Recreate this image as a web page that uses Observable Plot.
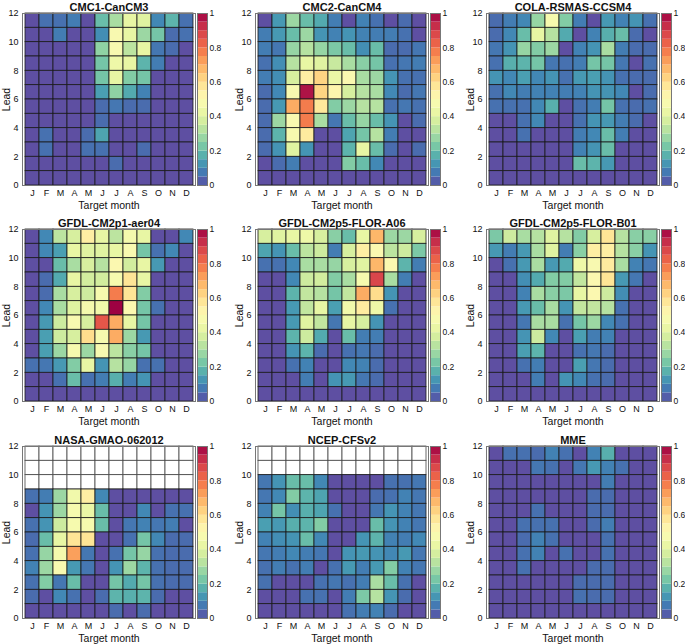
<!DOCTYPE html>
<html><head><meta charset="utf-8">
<script src="https://cdn.jsdelivr.net/npm/d3@7"></script>
<script src="https://cdn.jsdelivr.net/npm/@observablehq/plot@0.6"></script>
<style>
body{margin:0;background:#fff;}
#chart{position:relative;width:685px;height:644px;overflow:hidden;font-family:"Liberation Sans",Arial,sans-serif;}
#chart > div{position:absolute;}
#chart svg{max-width:none !important;}
</style></head><body><div id="chart"></div>
<script>
// ---- data ----
const months = ["J","F","M","A","M","J","J","A","S","O","N","D"];
const monthIndex = [0,1,2,3,4,5,6,7,8,9,10,11];
const leadTicks = [0,2,4,6,8,10,12];
const colorbarTicks = [0,0.2,0.4,0.6,0.8,1];
const colorbarSteps = [0,0.05,0.1,0.15,0.2,0.25,0.3,0.35,0.4,0.45,0.5,0.55,0.6,0.65,0.7,0.75,0.8,0.85,0.9,0.95];
const panelTitles = ["CMC1-CanCM3","CMC2-CanCM4","COLA-RSMAS-CCSM4","GFDL-CM2p1-aer04","GFDL-CM2p5-FLOR-A06","GFDL-CM2p5-FLOR-B01","NASA-GMAO-062012","NCEP-CFSv2","MME"];

// rows: lead 11 (top) ... lead 0 (bottom); columns J..D
const cmc1 = [
[0,0.06,0.06,0.08,0,0.2,0.3,0.42,0.4,0.1,0.18,0.06],
[0,0,0.08,0,0,0.11,0.48,0.42,0.28,0.22,0.05,0.06],
[0,0,0,0,0,0.26,0.48,0.33,0.42,0.07,0.05,0],
[0,0,0,0,0,0.22,0.44,0.42,0.18,0.08,0,0],
[0,0,0,0,0,0.22,0.42,0.24,0.22,0,0,0],
[0,0,0,0,0,0.14,0.26,0.16,0.09,0,0,0],
[0,0,0,0,0,0.05,0.07,0.05,0.05,0,0,0],
[0,0,0,0,0,0.05,0,0,0,0,0,0],
[0,0.06,0,0,0.05,0.15,0,0,0,0,0,0],
[0,0.06,0,0,0.06,0.06,0,0,0.05,0,0,0],
[0,0,0,0,0,0,0.05,0,0,0,0,0],
[0,0,0,0,0,0,0,0,0,0,0,0]];
const cmc2 = [
[0,0.13,0.28,0.2,0.16,0.08,0,0.09,0.06,0,0.05,0],
[0.08,0.13,0.2,0.28,0.12,0.09,0.12,0.09,0.08,0.08,0.06,0],
[0.08,0.07,0.27,0.32,0.27,0.23,0.2,0.11,0.2,0.05,0.05,0.07],
[0.06,0.11,0.32,0.42,0.4,0.35,0.3,0.25,0.22,0.06,0.07,0.08],
[0.08,0.11,0.38,0.55,0.62,0.43,0.5,0.3,0.28,0.12,0.06,0.06],
[0.05,0.1,0.48,0.97,0.62,0.52,0.38,0.32,0.3,0.1,0.05,0.07],
[0.05,0.13,0.7,0.78,0.57,0.24,0.28,0.32,0.32,0.06,0.07,0.06],
[0.05,0.28,0.48,0.78,0.3,0.07,0.2,0.27,0.2,0.12,0,0.05],
[0.05,0.18,0.47,0.56,0,0,0.15,0.22,0.32,0.08,0,0],
[0.05,0.12,0.4,0.12,0,0,0.18,0.42,0.2,0.05,0,0.05],
[0,0.05,0.08,0,0,0,0.24,0.2,0.1,0,0,0],
[0,0,0,0,0,0,0,0,0,0,0,0]];
const cola = [
[0.05,0.08,0.1,0.27,0.47,0.24,0.08,0,0.13,0.09,0.12,0.06],
[0.05,0.1,0.2,0.42,0.32,0.16,0,0.09,0.17,0.2,0.05,0],
[0.07,0.12,0.27,0.24,0.28,0,0.09,0.12,0.3,0.08,0.05,0.05],
[0.06,0.17,0.18,0.22,0.07,0.06,0.08,0.22,0.22,0.07,0,0.06],
[0.12,0.1,0.14,0.1,0.12,0.06,0.13,0.14,0.12,0.06,0.05,0.05],
[0.06,0.1,0.08,0.09,0.09,0.08,0.09,0.12,0.12,0.1,0,0.05],
[0.06,0.06,0.06,0.1,0.17,0,0.06,0.08,0.22,0.06,0.05,0.06],
[0,0,0.06,0.1,0,0,0.06,0.12,0.13,0.08,0.05,0],
[0,0,0.06,0,0,0,0.08,0.1,0.2,0.08,0,0],
[0,0,0,0,0,0,0.09,0.12,0.2,0,0,0],
[0,0,0,0,0,0,0.2,0.18,0.13,0,0,0],
[0,0,0,0,0,0,0,0,0,0,0,0]];
const gfdlAer04 = [
[0,0.1,0.33,0.38,0.55,0.42,0.33,0.46,0.42,0,0,0.1],
[0,0.1,0.14,0.42,0.4,0.4,0.42,0.48,0.22,0.06,0.1,0],
[0,0,0.2,0.3,0.38,0.32,0.5,0.37,0.42,0.13,0,0],
[0,0.05,0.16,0.42,0.37,0.37,0.47,0.58,0.42,0,0,0],
[0,0.05,0.3,0.38,0.36,0.47,0.78,0.58,0.24,0,0,0],
[0,0.1,0.3,0.4,0.46,0.45,1.0,0.5,0.22,0.06,0,0],
[0,0.13,0.36,0.48,0.38,0.85,0.7,0.42,0.22,0,0,0],
[0,0.14,0.36,0.38,0.6,0.47,0.7,0.28,0.13,0,0,0],
[0,0.14,0.28,0.47,0.28,0.48,0.33,0.25,0.22,0,0,0],
[0.06,0.07,0.13,0.24,0.42,0.12,0.32,0.27,0.06,0.06,0,0],
[0,0,0.06,0.2,0.06,0.08,0.17,0.08,0.12,0,0,0],
[0,0,0,0,0,0,0,0,0,0,0,0]];
const florA06 = [
[0.38,0.4,0.42,0.44,0.38,0.25,0.2,0.42,0.68,0.28,0.28,0.38],
[0.15,0.12,0.2,0.33,0.36,0.08,0.38,0.55,0.5,0.33,0.36,0.23],
[0.06,0.06,0.1,0.3,0.3,0.27,0.38,0.4,0.68,0.5,0.18,0.08],
[0,0,0.1,0.36,0.37,0.24,0.3,0.47,0.88,0.3,0.08,0],
[0,0,0.18,0.34,0.32,0.22,0.34,0.7,0.6,0.12,0,0],
[0,0,0.13,0.34,0.42,0.14,0.45,0.56,0.44,0.06,0,0],
[0,0,0.13,0.4,0.34,0.07,0.42,0.38,0.12,0,0,0],
[0,0,0.18,0.36,0.16,0,0.2,0.08,0.08,0,0,0],
[0,0,0.12,0.18,0.05,0,0.06,0.07,0.05,0,0,0],
[0,0,0.06,0.09,0,0,0.1,0.09,0.05,0,0,0],
[0,0,0,0.08,0,0.12,0.13,0.07,0.05,0,0,0],
[0,0,0,0,0,0,0,0,0,0,0,0]];
const florB01 = [
[0.23,0.36,0.3,0.32,0.4,0.32,0.24,0.38,0.58,0.32,0.25,0.25],
[0.13,0.08,0.13,0.3,0.4,0.08,0.25,0.55,0.55,0.32,0.25,0.12],
[0,0.06,0.13,0.3,0.13,0.16,0.44,0.48,0.56,0.3,0.09,0.07],
[0,0,0.11,0.16,0.24,0.24,0.34,0.5,0.58,0.13,0.07,0],
[0,0,0.09,0.3,0.25,0.23,0.42,0.5,0.36,0.11,0,0],
[0,0,0.13,0.2,0.3,0.12,0.34,0.34,0.32,0.06,0,0],
[0,0,0.07,0.3,0.3,0.06,0.22,0.28,0.1,0.06,0,0],
[0,0,0.12,0.36,0.1,0,0.14,0.08,0.09,0,0,0],
[0,0,0.14,0.18,0,0,0.06,0.07,0.05,0,0,0],
[0,0,0.06,0.08,0,0,0.14,0.07,0.05,0,0,0],
[0,0,0,0.08,0,0.12,0.1,0.06,0.05,0,0,0],
[0,0,0,0,0,0,0,0,0,0,0,0]];
const nasa = [
[null,null,null,null,null,null,null,null,null,null,null,null],
[null,null,null,null,null,null,null,null,null,null,null,null],
[null,null,null,null,null,null,null,null,null,null,null,null],
[0.06,0.08,0.28,0.45,0.55,0.1,0,0,0,0,0,0],
[0,0.12,0.28,0.47,0.43,0.2,0,0,0.1,0,0.06,0.06],
[0.06,0.12,0.36,0.47,0.47,0.2,0,0.07,0.09,0.07,0.08,0],
[0.05,0.2,0.42,0.58,0.58,0,0,0.06,0.22,0.1,0.05,0.05],
[0.06,0.27,0.46,0.72,0.07,0,0.06,0.22,0.27,0.06,0.05,0.05],
[0.09,0.28,0.48,0.13,0.07,0,0.12,0.28,0.18,0.06,0.05,0.05],
[0.06,0.24,0.07,0.2,0,0,0.22,0.16,0.22,0.06,0.05,0.05],
[0.05,0,0.1,0.06,0,0.05,0.18,0.17,0.18,0.05,0,0],
[0,0,0,0,0,0,0.05,0,0.05,0,0,0]];
const ncep = [
[null,null,null,null,null,null,null,null,null,null,null,null],
[null,null,null,null,null,null,null,null,null,null,null,null],
[0.07,0.12,0.2,0.2,0.1,0,0,0,0,0.06,0.06,0.07],
[0.07,0.1,0.24,0.18,0.15,0,0,0,0.05,0.06,0.09,0.07],
[0.09,0.22,0.11,0.17,0.15,0.06,0,0,0.07,0.12,0.09,0.07],
[0.14,0.13,0.17,0.18,0.24,0,0,0,0.2,0.12,0.09,0.07],
[0.09,0.11,0.12,0.2,0.1,0,0,0.12,0.18,0.09,0.08,0.1],
[0.07,0.08,0.1,0.08,0.07,0,0.12,0.13,0.12,0.1,0.13,0.07],
[0.06,0.08,0.06,0.08,0,0.06,0.13,0.08,0.13,0.24,0.09,0.07],
[0.06,0,0,0,0.06,0.07,0.06,0.08,0.3,0.2,0.06,0],
[0,0,0,0.06,0.06,0,0.08,0.23,0.32,0.12,0.05,0],
[0,0,0,0,0,0,0.06,0.08,0.09,0.05,0,0]];
const mme = [
[0,0.06,0.06,0.05,0.09,0.06,0,0.09,0.17,0,0,0],
[0,0,0,0.07,0.06,0,0.07,0.13,0.09,0.06,0,0],
[0,0,0,0,0,0,0,0,0.08,0,0,0],
[0,0,0,0,0,0,0,0.05,0.05,0,0,0],
[0,0,0,0.06,0,0,0,0.05,0.05,0,0,0],
[0,0,0.06,0.06,0.06,0,0,0.05,0.08,0,0,0],
[0,0,0.05,0.09,0.06,0,0,0,0.06,0,0,0],
[0,0,0.06,0.09,0,0.06,0,0,0.06,0,0,0],
[0,0,0.06,0,0,0,0,0.05,0.05,0,0,0],
[0,0,0,0,0,0,0.05,0.05,0.05,0,0,0],
[0,0,0,0,0,0,0.06,0.05,0.05,0,0,0],
[0,0,0,0,0,0,0,0,0,0,0,0]];
const panelGrids = [cmc1, cmc2, cola, gfdlAer04, florA06, florB01, nasa, ncep, mme];

// ---- layout ----
const FONT = '"Liberation Sans", Arial, sans-serif';
const colLeft = [22, 255, 486];
const rowTop = [13, 229, 446];
const PW = 173, PH = 172, ML = 22, MT = 13, MB = 30;
const colorScale = {type: "linear", scheme: "spectral", reverse: true, domain: [0, 1]};
const chart = document.getElementById("chart");

function place(node, left, top, w) {
  const d = document.createElement("div");
  d.style.left = left + "px"; d.style.top = top + "px"; d.style.width = w + "px";
  d.appendChild(node); chart.appendChild(d);
}

panelGrids.forEach((grid, k) => {
  const c = k % 3, r = Math.floor(k / 3);
  const cells = [];
  grid.forEach((row, i) => row.forEach((v, j) => cells.push({m: monthIndex[j], lead: 11 - i, v})));
  const W = ML + PW + 2;
  const heat = Plot.plot({
    width: W, height: MT + PH + MB,
    marginLeft: ML, marginRight: 2, marginTop: MT, marginBottom: MB,
    style: {fontFamily: FONT, fontSize: "9px", background: "transparent", overflow: "visible", color: "#111"},
    x: {type: "band", domain: monthIndex, padding: 0, tickSize: 0, tickPadding: 4, tickFormat: i => months[i], label: null},
    y: {domain: [0, 12], ticks: leadTicks, tickSize: 0, tickPadding: 4, label: null},
    color: colorScale,
    marks: [
      Plot.barY(cells.filter(d => d.v == null), {x: "m", y1: "lead", y2: d => d.lead + 1, fill: "white", stroke: "#444", strokeWidth: 0.8, inset: 0}),
      Plot.barY(cells.filter(d => d.v != null), {x: "m", y1: "lead", y2: d => d.lead + 1, fill: "v", stroke: "#1a1a1a", strokeWidth: 0.8, inset: 0}),
      Plot.frame({stroke: "#777"}),
      Plot.text([panelTitles[k]], {text: d => d, frameAnchor: "top", lineAnchor: "middle", textAnchor: "middle", dy: -6, fontWeight: "bold", fontSize: 11}),
      Plot.text(["Lead"], {text: d => d, frameAnchor: "left", lineAnchor: "middle", textAnchor: "middle", dx: -16, rotate: -90, fontSize: 10.5}),
      Plot.text(["Target month"], {text: d => d, frameAnchor: "bottom", lineAnchor: "middle", textAnchor: "middle", dy: 20, fontSize: 10.5})
    ]
  });
  place(heat, colLeft[c] - ML, rowTop[r] - MT, W);

  const bar = Plot.plot({
    width: 30, height: MT + PH + MB,
    marginLeft: 0, marginRight: 20, marginTop: MT, marginBottom: MB,
    style: {fontFamily: FONT, fontSize: "8.5px", background: "transparent", overflow: "visible", color: "#111"},
    y: {domain: [0, 1], label: null, axis: null},
    color: colorScale,
    marks: [
      Plot.barY(colorbarSteps, {y1: d => d, y2: d => d + 0.05, fill: d => d + 0.025}),
      Plot.frame({stroke: "#777"}),
      Plot.axisY({anchor: "right", ticks: colorbarTicks, tickSize: 0, tickPadding: 2, tickFormat: d => String(d), label: null})
    ]
  });
  place(bar, colLeft[c] + PW + 2, rowTop[r] - MT, 30);
});
</script>
</body></html>
